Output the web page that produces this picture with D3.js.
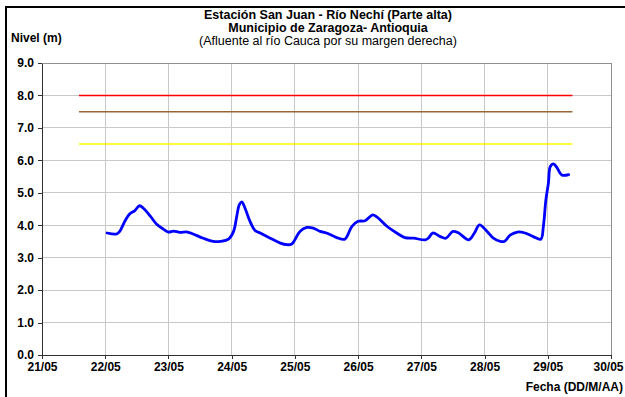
<!DOCTYPE html>
<html>
<head>
<meta charset="utf-8">
<script src="https://cdn.jsdelivr.net/npm/d3@7"></script>
<style>
  html, body { margin: 0; padding: 0; background: #fff; }
  svg { display: block; font-family: "Liberation Sans", Arial, sans-serif; }
</style>
</head>
<body>
<div id="chart"></div>
<script>
// Day offsets from 21/05 00:00 and water level (m)
const dayOffsets = [1.03,1.18,1.23,1.31,1.39,1.47,1.54,1.60,1.71,1.81,1.92,2.00,2.08,2.18,2.30,2.39,2.55,2.71,2.82,2.95,3.03,3.08,3.12,3.16,3.21,3.29,3.37,3.45,3.61,3.77,3.87,3.95,4.00,4.08,4.19,4.29,4.40,4.50,4.66,4.79,4.90,5.00,5.11,5.23,5.30,5.46,5.61,5.74,5.88,6.06,6.11,6.18,6.30,6.39,6.50,6.59,6.75,6.84,6.92,7.04,7.14,7.25,7.31,7.41,7.52,7.64,7.77,7.89,7.93,7.97,8.01,8.04,8.09,8.14,8.22,8.33];
const levels =     [3.76,3.73,3.81,4.12,4.35,4.45,4.60,4.53,4.29,4.04,3.88,3.79,3.82,3.78,3.79,3.73,3.60,3.50,3.50,3.57,3.81,4.27,4.63,4.72,4.53,4.12,3.84,3.76,3.60,3.45,3.40,3.42,3.55,3.81,3.93,3.91,3.81,3.76,3.62,3.57,3.96,4.12,4.14,4.32,4.25,3.96,3.76,3.62,3.60,3.55,3.60,3.76,3.65,3.60,3.81,3.76,3.55,3.76,4.01,3.81,3.60,3.50,3.50,3.70,3.79,3.76,3.65,3.57,3.96,4.78,5.30,5.81,5.89,5.79,5.55,5.56];

// Alert thresholds (m): red, brown (orange), yellow
const thresholdNames = ["roja", "naranja", "amarilla"];
const thresholdValues = [8.0, 7.5, 6.5];
const thresholdColors = ["#ff0000", "#996633", "#ffff00"];
const thresholdStart = 0.585;
const thresholdEnd = 8.39;

const xTickLabels = ["21/05","22/05","23/05","24/05","25/05","26/05","27/05","28/05","29/05","30/05"];
const yTicks = [0,1,2,3,4,5,6,7,8,9];

const titleLines = ["Estación San Juan  - Río Nechí (Parte alta)", "Municipio de Zaragoza- Antioquia", "(Afluente al río Cauca por su margen derecha)"];

const W = 625, H = 397;
const plot = {left: 42, right: 611, top: 63, bottom: 355};

const svg = d3.select("#chart").append("svg").attr("width", W).attr("height", H);

const x = d3.scaleLinear().domain([0, 9]).range([plot.left, plot.right]);
const y = d3.scaleLinear().domain([0, 9]).range([plot.bottom, plot.top]);

// outer frame
svg.append("rect").attr("x", 6).attr("y", 7).attr("width", 700).attr("height", 500)
  .attr("fill", "none").attr("stroke", "#000").attr("stroke-width", 2);

// gridlines
svg.append("g").selectAll("line").data(d3.range(1, 9)).join("line")
  .attr("x1", d => x(d)).attr("x2", d => x(d))
  .attr("y1", plot.top).attr("y2", plot.bottom)
  .attr("stroke", "#c8c8c8").attr("stroke-width", 1).attr("shape-rendering", "crispEdges");
svg.append("g").selectAll("line").data(d3.range(1, 9)).join("line")
  .attr("x1", plot.left).attr("x2", plot.right)
  .attr("y1", d => y(d)).attr("y2", d => y(d))
  .attr("stroke", "#c8c8c8").attr("stroke-width", 1).attr("shape-rendering", "crispEdges");

// plot border (top/right)
svg.append("path")
  .attr("d", `M${plot.left},${y(9)}H${x(9)}V${plot.bottom}`)
  .attr("fill", "none").attr("stroke", "#909090").attr("stroke-width", 1).attr("shape-rendering", "crispEdges");

// axes
const xAxis = d3.axisBottom(x).tickValues(d3.range(0, 10)).tickFormat(i => xTickLabels[i]).tickSizeInner(4).tickSizeOuter(0).tickPadding(3);
const yAxis = d3.axisLeft(y).tickValues(yTicks).tickFormat(d3.format(".1f")).tickSizeInner(4).tickSizeOuter(0).tickPadding(4);

const gx = svg.append("g").attr("transform", `translate(0,${plot.bottom})`).call(xAxis);
const gy = svg.append("g").attr("transform", `translate(${plot.left},0)`).call(yAxis);
[gx, gy].forEach(g => {
  g.selectAll("path, line").attr("stroke", "#303030").attr("shape-rendering", "crispEdges");
  g.selectAll("text").attr("fill", "#000").attr("font-size", 12).attr("font-weight", "bold")
    .attr("font-family", "Liberation Sans, Arial, sans-serif");
});
// keep the last date label inside the picture
gx.selectAll(".tick").filter(d => d === 9).select("text")
  .attr("text-anchor", "end").attr("x", W - 2 - x(9));

// threshold lines
svg.append("g").selectAll("line").data(thresholdValues).join("line")
  .attr("x1", x(thresholdStart)).attr("x2", x(thresholdEnd))
  .attr("y1", d => y(d)).attr("y2", d => y(d))
  .attr("stroke", (d, i) => thresholdColors[i]).attr("stroke-width", 1.5);

// level line
const data = dayOffsets.map((d, i) => [d, levels[i]]);
svg.append("path").datum(data)
  .attr("d", d3.line().x(d => x(d[0])).y(d => y(d[1])).curve(d3.curveCatmullRom.alpha(0.5)))
  .attr("fill", "none").attr("stroke", "#0000ff").attr("stroke-width", 2.8)
  .attr("stroke-linejoin", "round").attr("stroke-linecap", "round");

// titles
const tY = [19, 32, 45];
titleLines.forEach((t, i) => {
  svg.append("text").attr("x", 328).attr("y", tY[i]).attr("text-anchor", "middle")
    .attr("font-size", 12.5).attr("font-weight", i < 2 ? "bold" : "normal").text(t);
});
svg.append("text").attr("x", 11).attr("y", 42).attr("font-size", 12).attr("font-weight", "bold").text("Nivel (m)");
svg.append("text").attr("x", W - 2).attr("y", 391).attr("text-anchor", "end")
  .attr("font-size", 12).attr("font-weight", "bold").text("Fecha (DD/M/AA)");
</script>
</body>
</html>
